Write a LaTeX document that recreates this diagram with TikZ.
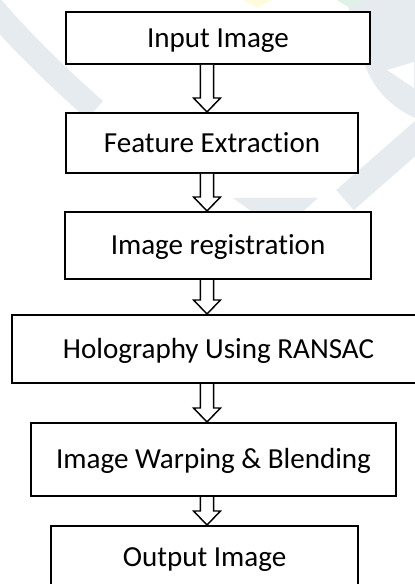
\documentclass[tikz,border=0pt]{standalone}
\usepackage{fontspec}
\setmainfont{Carlito}[Ligatures=NoCommon]
\usetikzlibrary{calc}

\definecolor{wmgray}{RGB}{229,235,239}
\definecolor{wmyellow}{RGB}{255,252,222}
\definecolor{wmgreen}{RGB}{222,242,231}

\tikzset{
  stage/.style={draw, line width=1.5pt, fill=white, inner sep=0pt,
    text height=14pt, text depth=0pt, font=\fontsize{21.8}{26}\selectfont},
  hollow/.style={draw, line width=1.1pt, fill=white, line join=miter}
}

\newcommand{\flowarrow}[2]{%
  \filldraw[hollow] let \p1=(#1.south -| ax), \p2=(#2.north -| ax) in
    (\x1-4.9pt,\y1) -- (\x1-4.9pt,\y2+10.5pt) -- (\x1-10.1pt,\y2+10.5pt)
    -- (\x2,\y2) -- (\x1+10.1pt,\y2+10.5pt) -- (\x1+4.9pt,\y2+10.5pt)
    -- (\x1+4.9pt,\y1);}

\begin{document}
\begin{tikzpicture}[x=0.75pt,y=-0.75pt]
  \useasboundingbox (0,0) rectangle (414,584);
  \fill[white] (0,0) rectangle (414,584);
  % faint watermark
  \draw[wmgray, line width=18pt] (-10,5) .. controls (20,40) and (50,70) .. (95,110);
  \fill[wmgray] (345,-5) -- (420,-5) -- (420,120) .. controls (400,112) and (372,95) .. (362,55) -- cycle;
  \fill[white] (387,70) -- (414,62) -- (414,88) -- cycle;
  \draw[wmgray, line width=20pt] (425,130) -- (345,200);
  \fill[wmgray] (233,198) -- (318,198) -- (280,232) -- cycle;
  \fill[wmyellow] (243,0) -- (272,0) -- (257,8) -- cycle;
  \fill[wmgreen] (337,0) -- (363,0) -- (350,8) -- cycle;

  \node[stage, minimum width=228pt, minimum height=39pt] (input) at (218,38) {Input Image};
  \node[stage, minimum width=219pt, minimum height=45pt] (feature) at (212,143) {Feature Extraction};
  \node[stage, minimum width=229.5pt, minimum height=50.25pt] (regist) at (218,245.5) {Image registration};
  \node[stage, minimum width=309.75pt, minimum height=51pt] (ransac) at (218.5,349) {Holography Using RANSAC};
  \node[stage, minimum width=273.75pt, minimum height=54.75pt] (warp) at (213.5,459.5) {Image Warping \& Blending};
  \node[stage, minimum width=230.25pt, minimum height=46.5pt] (output) at (204.5,557) {Output Image};

  \coordinate (ax) at (207,0);
  \flowarrow{input}{feature}
  \flowarrow{feature}{regist}
  \flowarrow{regist}{ransac}
  \flowarrow{ransac}{warp}
  \flowarrow{warp}{output}
\end{tikzpicture}
\end{document}
